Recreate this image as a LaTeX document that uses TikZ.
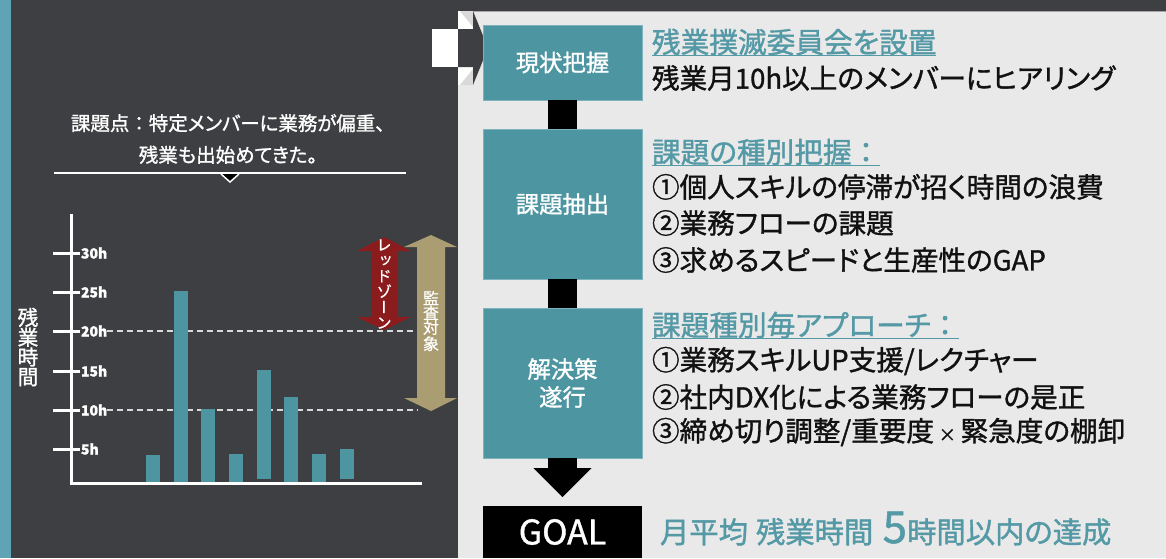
\documentclass[tikz,border=0pt]{standalone}
\usepackage{fontspec}
\usetikzlibrary{arrows.meta,calc}
\newfontfamily\jp[RawFeature=+palt,FakeBold=1.2]{Noto Sans CJK JP}
\newfontfamily\jpn[FakeBold=1.2]{Noto Sans CJK JP}
\newfontfamily\jpv[RawFeature=+vert,FakeBold=0.8]{Noto Sans CJK JP}
\newcommand{\fwcolon}{{\jpn ：}}
\definecolor{bgdark}{HTML}{3E3F42}
\definecolor{stripteal}{HTML}{5FA4B4}
\definecolor{panelbg}{HTML}{E9E9E9}
\definecolor{boxteal}{HTML}{4E95A2}
\definecolor{boxedge}{HTML}{7DB3BE}
\definecolor{tealtxt}{HTML}{5499A6}
\definecolor{redz}{HTML}{8B1C1D}
\definecolor{goldz}{HTML}{AA9D72}
\definecolor{dashc}{HTML}{D8D8D8}
\definecolor{txtblack}{HTML}{111111}
\begin{document}
\begin{tikzpicture}[x=0.75pt,y=-0.75pt,
  every node/.style={inner sep=0pt,outer sep=0pt},
  stepbox/.style={fill=boxteal,draw=boxedge,line width=0.6pt,minimum width=119.25pt,text=white,
    font=\jp\fontsize{17.5}{21}\selectfont,align=center},
  conn/.style={line width=22pt,black},
  headtxt/.style={anchor=west,text=tealtxt,font=\jp\fontsize{21.5}{21.5}\selectfont},
  bodytxt/.style={anchor=west,text=txtblack,font=\jp\fontsize{20.7}{20.7}\selectfont},
  uline/.style={tealtxt,line width=1.1pt},
  ticklab/.style={anchor=west,text=white,font=\jp\bfseries\fontsize{10.5}{10.5}\selectfont},
  dashline/.style={dashc,line width=1.1pt,dash pattern=on 4.5pt off 3pt}]
\useasboundingbox (0,0) rectangle (1166,558);
% backgrounds
\fill[bgdark] (0,0) rectangle (1166,558);
\fill[stripteal] (0,0) rectangle (11,558);
\fill[panelbg] (458,11) rectangle (1166,558);
\draw[gray!70,line width=0.75pt] (458,11) -- (1166,11);
% entering arrow
\fill[white] (432,29) rectangle (458,67);
\fill[white] (458,11) rectangle (473,29);
\fill[white] (458,67) rectangle (473,85);
\fill[panelbg!85!gray] (460,11) -- (473,11) -- (473,27) -- cycle;
\fill[panelbg!85!gray] (460,85) -- (473,85) -- (473,69) -- cycle;
\fill[bgdark] (458,29) -- (473,29) -- (473,11) -- (488,48) -- (473,85) -- (473,67) -- (458,67) -- cycle;
% left heading text
\node[text=white,font=\jp\fontsize{14.6}{23.8}\selectfont,align=center] (issue) at (228,139)
  {課題点\fwcolon 特定メンバーに業務が偏重、\\残業も出始めてきた。};
\draw[white,line width=1.5pt] (54,173) -- (406,173);
\fill[black] (221,174) -- (239,174) -- (230,182) -- cycle;
\draw[white,line width=1.1pt] (221,174) -- (230,182) -- (239,174);
% chart
\draw[dashline] (107,331) -- (418,331);
\draw[dashline] (107,410) -- (418,410);
\foreach \xa/\yt/\yb in {146/455/482,174/291/482,201/409/482,229/454/482,257/370/479,284/397/482,312/454/482,340/449/479}
  \fill[boxteal] (\xa,\yt) rectangle (\xa+14,\yb);
\draw[white,line width=2.25pt] (71,214) -- (71,483) -- (422,483);
\foreach \yy/\lab in {253/30h,292/25h,331/20h,371/15h,410/10h,449/5h}{
  \draw[white,line width=2.25pt] (53,\yy) -- (80,\yy);
  \node[ticklab] at (81,\yy) {\lab};
}
\node[text=white,font=\jp\fontsize{15.5}{14.8}\selectfont,align=center] (ylab) at (28,347) {残\\業\\時\\間};
% red zone arrow
\fill[redz] (384,237) -- (411,251) -- (398,251) -- (398,317) -- (411,317) -- (384,330)
  -- (357,317) -- (371,317) -- (371,251) -- (357,251) -- cycle;
\node[text=white,font=\jpv\fontsize{11.5}{11.7}\selectfont,align=center] (redlab) at (384,284) {レ\\ッ\\ド\\ゾ\\ー\\ン};
% audit arrow
\fill[goldz] (431,235) -- (457,247) -- (445,247) -- (445,398) -- (457,398) -- (431,411)
  -- (404,398) -- (417,398) -- (417,247) -- (404,247) -- cycle;
\node[text=white,font=\jpv\fontsize{12}{11}\selectfont,align=center] (audlab) at (431,321) {監\\査\\対\\象};
% flow boxes
\node[stepbox,minimum height=56.25pt] (b1) at (562.5,62.5) {現状把握};
\node[stepbox,minimum height=112.5pt] (b2) at (562.5,204) {課題抽出};
\node[stepbox,minimum height=112.5pt] (b3) at (562.5,383) {解決策\\遂行};
\node[fill=black,minimum width=119.25pt,minimum height=39pt,text=white,font=\jp\fontsize{25.5}{25.5}\selectfont] (goal) at (562.5,532) {GOAL};
\draw[conn] (b1.south) -- (b2.north);
\draw[conn] (b2.south) -- (b3.north);
\coordinate (gtip) at (562.5,497);
\draw[conn,-{Triangle[length=21.75pt,width=43.5pt,line width=0pt]}] (b3.south) -- (gtip);
% right texts
\node[headtxt] (h1) at (652,42) {残業撲滅委員会を設置};
\draw[uline] (h1.south west) -- (h1.south east);
\node[bodytxt] (t1) at (652,78) {残業月10h以上のメンバーにヒアリング};
\node[headtxt] (h2) at (652,152) {課題の種別把握\fwcolon};
\draw[uline] (h2.south west) -- (h2.south east);
\node[bodytxt] (t21) at (652,187) {①個人スキルの停滞が招く時間の浪費};
\node[bodytxt] (t22) at (652,223) {②業務フローの課題};
\node[bodytxt] (t23) at (652,260) {③求めるスピードと生産性のGAP};
\node[headtxt] (h3) at (652,325) {課題種別毎アプローチ\fwcolon};
\draw[uline] (h3.south west) -- (h3.south east);
\node[bodytxt] (t31) at (652,361) {①業務スキルUP支援/レクチャー};
\node[bodytxt] (t32) at (652,397) {②社内DX化による業務フローの是正};
\node[bodytxt] (t33) at (652,432) {③締め切り調整/重要度\,{\fontsize{13}{13}\selectfont ×}\,緊急度の棚卸};
\node[anchor=base west,text=tealtxt,font=\jp\fontsize{22}{22}\selectfont] (gtxt) at (660,543)
  {月平均\hspace{6pt}残業時間\hspace{7pt}{\fontsize{33}{33}\selectfont 5}時間以内の達成};
\end{tikzpicture}
\end{document}
